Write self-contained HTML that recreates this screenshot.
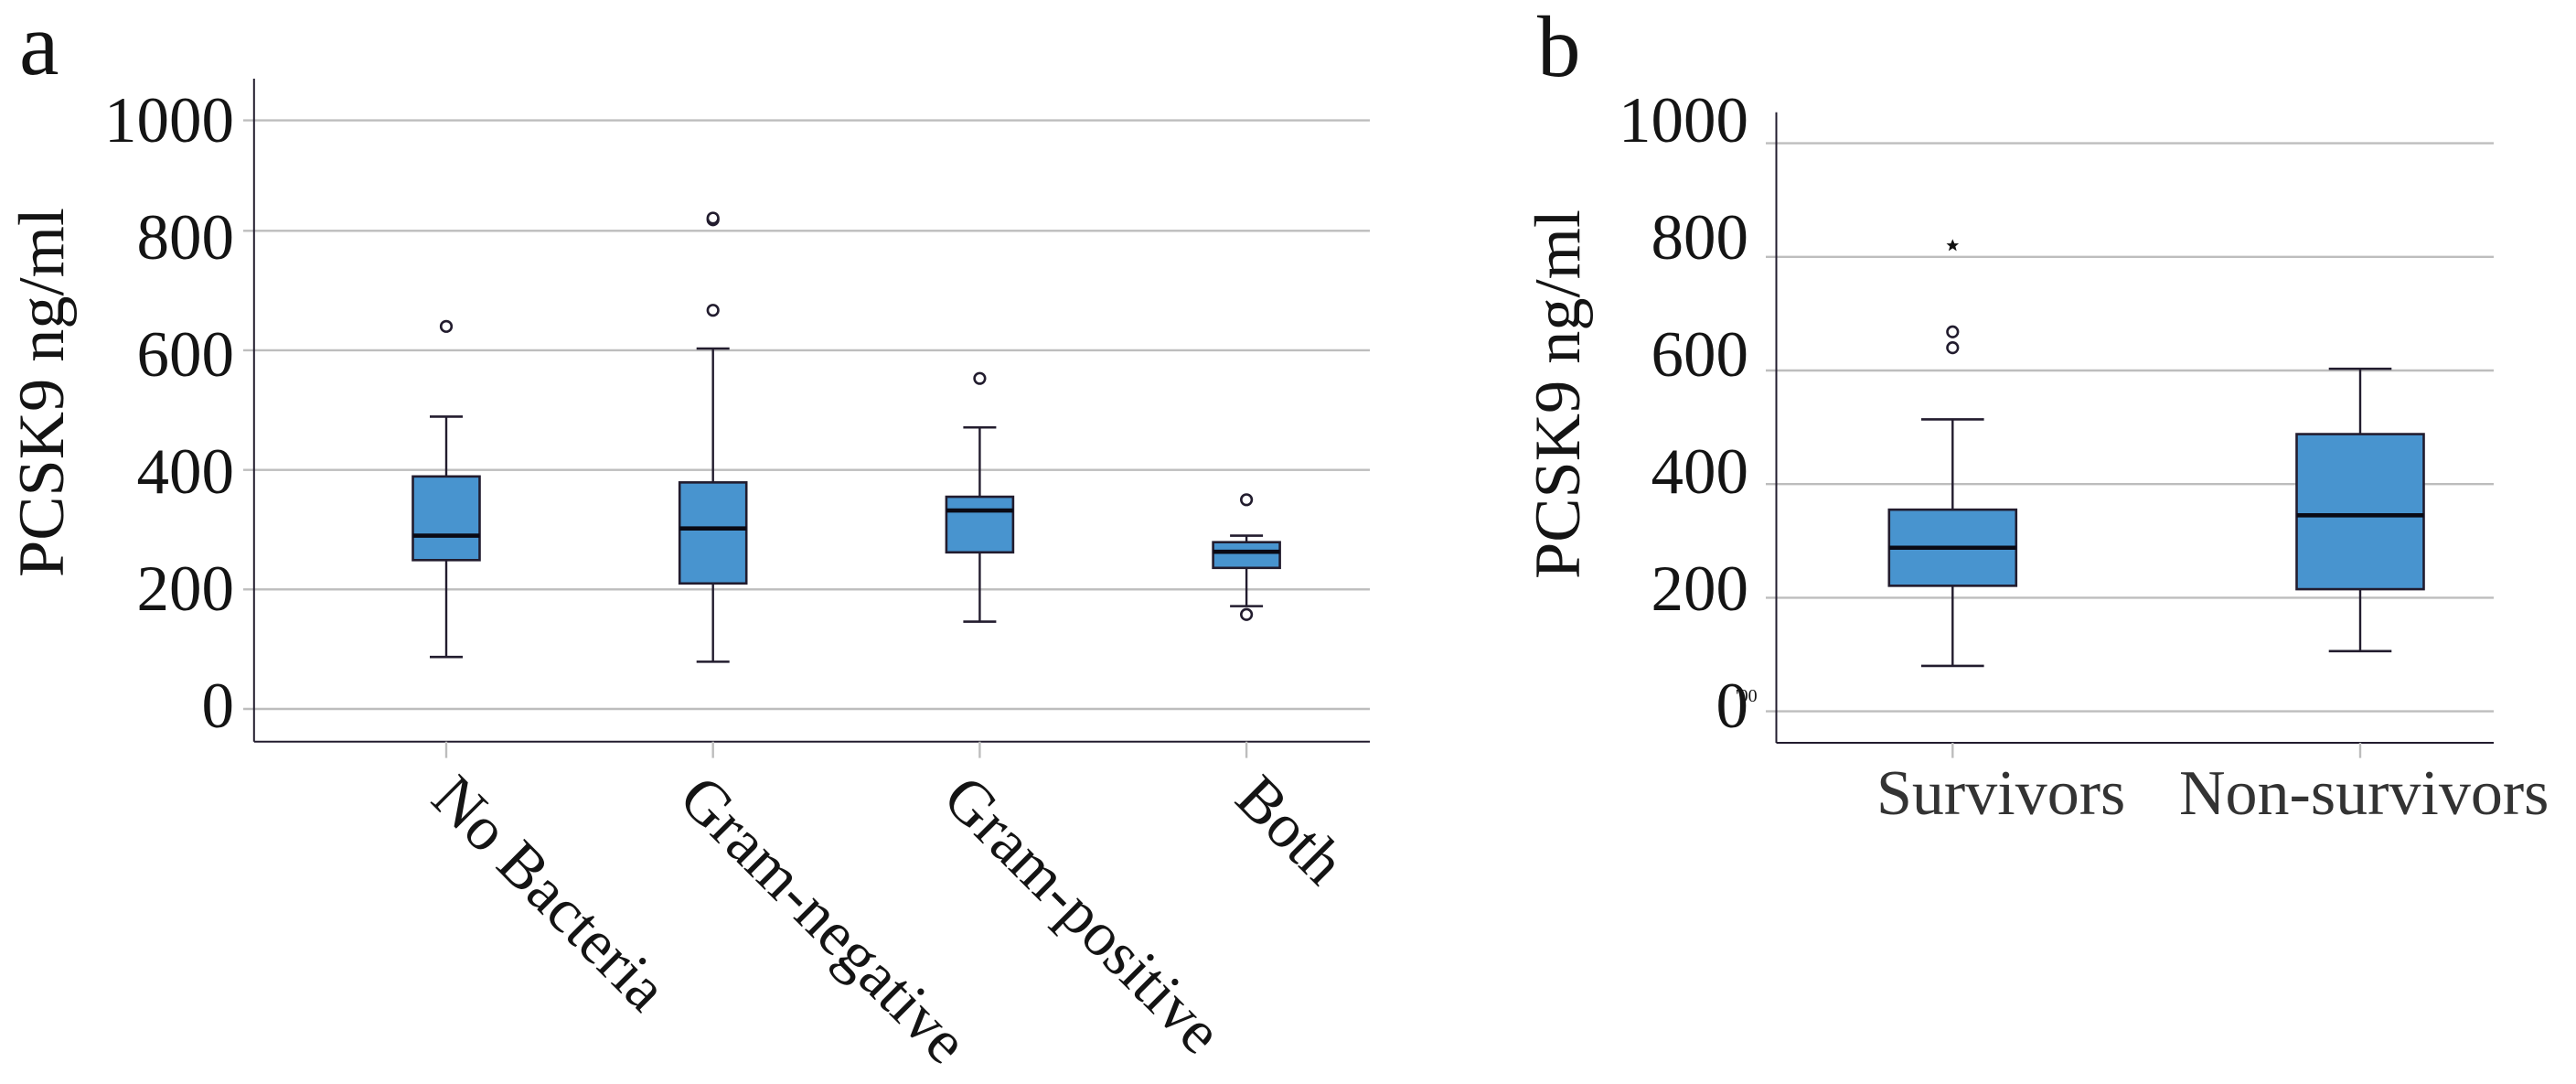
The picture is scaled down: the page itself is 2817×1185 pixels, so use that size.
<!DOCTYPE html>
<html lang="en">
<head>
<meta charset="utf-8">
<title>PCSK9 box plots</title>
<style>
html,body{margin:0;padding:0;background:#fff;width:2817px;height:1185px;overflow:hidden}
svg{display:block}
text{font-family:"Liberation Serif","Times New Roman",serif;fill:#141414}
</style>
</head>
<body>
<svg id="figure" xmlns="http://www.w3.org/2000/svg" width="2817" height="1185" viewBox="0 0 2817 1185">
  <rect width="2817" height="1185" fill="#fff"/>
  <g id="panel-a"></g>
  <g id="panel-b"></g>
  <text x="21" y="81" font-size="98">a</text>
  <text x="1681" y="83" font-size="95">b</text>
  <text transform="translate(69,631) rotate(-90)" font-size="71" textLength="404" lengthAdjust="spacingAndGlyphs">PCSK9 ng/ml</text>
  <text transform="translate(1727,633) rotate(-90)" font-size="71" textLength="404" lengthAdjust="spacingAndGlyphs">PCSK9 ng/ml</text>
  <text x="1898" y="767" font-size="20" fill="#333">'00</text>
</svg>
<script>
const tickValues = [0, 200, 400, 600, 800, 1000];

const categoriesA = ['No Bacteria', 'Gram-negative', 'Gram-positive', 'Both'];
const whiskerLowA = [87, 79, 146, 172];
const q1A = [249, 210, 262, 236];
const medianA = [290, 302, 332, 263];
const q3A = [389, 379, 355, 279];
const whiskerHighA = [489, 603, 471, 290];
const outliersA = [[640], [667, 820, 823], [553], [158, 350]];

const categoriesB = ['Survivors', 'Non-survivors'];
const whiskerLowB = [80, 106];
const q1B = [221, 215];
const medianB = [288, 345];
const q3B = [355, 488];
const whiskerHighB = [514, 603];
const outliersB = [[640, 668], []];
const extremesB = [[820], []];

const NS = 'http://www.w3.org/2000/svg';
const BLUE = '#4894cf';
const INK = '#221c2e';
const GRID = '#bdbdbd';

function yA(v) { return v <= 800 ? 775 - v * 0.6534 : 252.3 - (v - 800) * 0.6035; }
function yB(v) { return 777.6 - v * 0.621; }
function labelBaseline(v) { return 795 - v * 0.64; }
function xA(i) { return 488 + i * 291.7; }
function xB(i) { return 2135.3 + i * 445.7; }
function slantedLabelX(i) { return xA(i) + [-19, -40, -43, -15][i]; }

function make(tag, parent) {
  const el = document.createElementNS(NS, tag);
  parent.appendChild(el);
  return el;
}
function line(parent, x1, y1, x2, y2, color, width) {
  const el = make('line', parent);
  el.setAttribute('x1', x1);
  el.setAttribute('y1', y1);
  el.setAttribute('x2', x2);
  el.setAttribute('y2', y2);
  el.setAttribute('stroke', color);
  el.setAttribute('stroke-width', width);
  return el;
}

function drawAxes(parent, y, axisLeft, axisRight, axisTop, axisBottom, tickLeft, labelRight) {
  tickValues.forEach(function (v) {
    const grid = line(parent, tickLeft, y(v), axisRight, y(v), GRID, 2.4);
    
    
    const label = make('text', parent);
    
    
    label.setAttribute('x', labelRight);
    label.setAttribute('y', labelBaseline(v));
    label.setAttribute('text-anchor', 'end');
    label.setAttribute('font-size', '71');
    label.textContent = String(v);
  });
  const yAxis = line(parent, axisLeft, axisTop, axisLeft, axisBottom, INK, 2);
  
  
  const xAxis = line(parent, axisLeft, axisBottom, axisRight, axisBottom, INK, 2);
  
  
}

function drawBox(parent, cat, cx, y, low, q1, med, q3, high, boxHalf, capHalf) {
  const g = make('g', parent);
  
  
  const stem = line(g, cx, y(high), cx, y(low), INK, 2.4);
  
  
  const capTop = line(g, cx - capHalf, y(high), cx + capHalf, y(high), INK, 2.6);
  
  
  const capLow = line(g, cx - capHalf, y(low), cx + capHalf, y(low), INK, 2.6);
  
  
  const rect = make('rect', g);
  
  
  rect.setAttribute('x', cx - boxHalf);
  rect.setAttribute('y', y(q3));
  rect.setAttribute('width', boxHalf * 2);
  rect.setAttribute('height', y(q1) - y(q3));
  rect.setAttribute('fill', BLUE);
  rect.setAttribute('stroke', INK);
  rect.setAttribute('stroke-width', '2.6');
  const m = line(g, cx - boxHalf, y(med), cx + boxHalf, y(med), '#0a0a14', 4.6);
  
  
  return g;
}

function drawOutlier(parent, cx, cy) {
  const c = make('circle', parent);
  
  
  c.setAttribute('cx', cx);
  c.setAttribute('cy', cy);
  c.setAttribute('r', '5.8');
  c.setAttribute('fill', '#fff');
  c.setAttribute('stroke', INK);
  c.setAttribute('stroke-width', '2.6');
}

function drawExtreme(parent, cx, cy) {
  const s = make('path', parent);
  
  
  s.setAttribute('transform', 'translate(' + cx + ',' + cy + ')');
  s.setAttribute('d', 'M0-7 2-2.2 6.8-2.2 3 1 4.4 6 0 3-4.4 6-3 1-6.8-2.2-2-2.2Z');
  s.setAttribute('fill', '#111');
}

const panelA = document.getElementById('panel-a');
drawAxes(panelA, yA, 277.8, 1498, 86, 810.7, 266, 256);
categoriesA.forEach(function (cat, i) {
  const cx = xA(i);
  const tick = line(panelA, cx, 810.7, cx, 828.6, GRID, 2.4);
  
  
  const g = drawBox(panelA, cat, cx, yA, whiskerLowA[i], q1A[i], medianA[i], q3A[i], whiskerHighA[i], 36.5, 18);
  outliersA[i].forEach(function (v) { drawOutlier(g, cx, yA(v)); });
  const label = make('text', panelA);
  
  
  label.setAttribute('font-size', '68.5');
  label.setAttribute('transform', 'translate(' + slantedLabelX(i) + ',876) rotate(45)');
  label.textContent = cat;
});

const panelB = document.getElementById('panel-b');
drawAxes(panelB, yB, 1942.5, 2727, 122.8, 812, 1931, 1912);
categoriesB.forEach(function (cat, i) {
  const cx = xB(i);
  const tick = line(panelB, cx, 812, cx, 828.6, GRID, 2.4);
  
  
  const g = drawBox(panelB, cat, cx, yB, whiskerLowB[i], q1B[i], medianB[i], q3B[i], whiskerHighB[i], 69.5, 34.3);
  outliersB[i].forEach(function (v) { drawOutlier(g, cx, yB(v)); });
  extremesB[i].forEach(function (v) { drawExtreme(g, cx, yB(v)); });
  const label = make('text', panelB);
  
  
  label.setAttribute('font-size', '70');
  label.setAttribute('x', [2052, 2383][i]);
  label.setAttribute('y', '890');
  label.style.fill = '#333';
  label.textContent = cat;
});
</script>
</body>
</html>
